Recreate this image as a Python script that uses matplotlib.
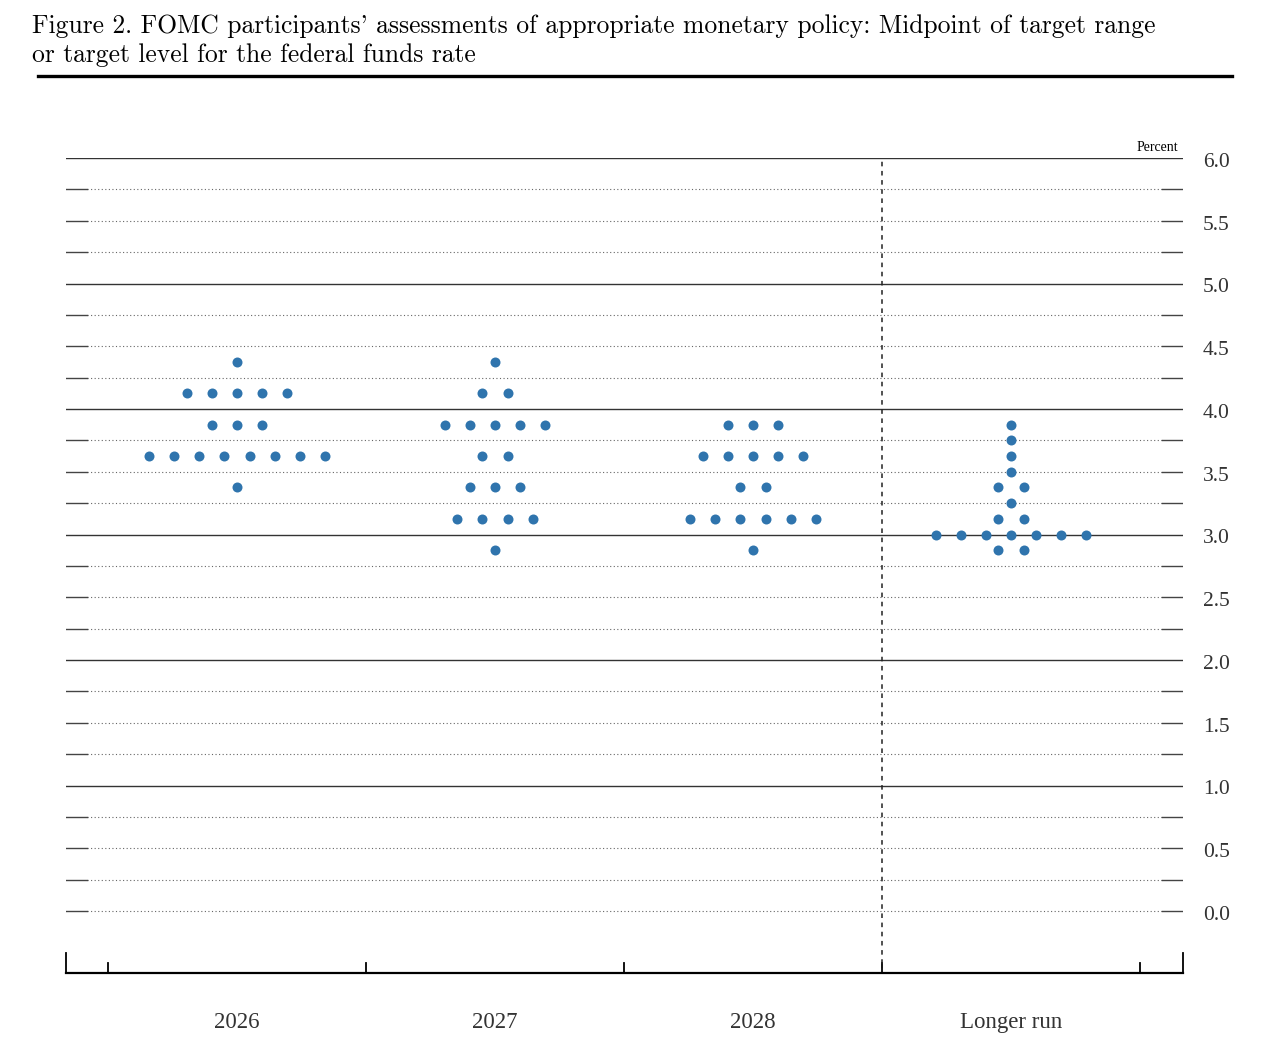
import matplotlib
matplotlib.use("Agg")
import matplotlib.pyplot as plt
from matplotlib.transforms import blended_transform_factory

# FOMC dot plot: midpoint of target range per participant
categories = ["2026", "2027", "2028", "Longer run"]

rates_2026 = [4.375, 4.125, 3.875, 3.625, 3.375]
counts_2026 = [1, 5, 3, 8, 1]

rates_2027 = [4.375, 4.125, 3.875, 3.625, 3.375, 3.125, 2.875]
counts_2027 = [1, 2, 5, 2, 3, 4, 1]

rates_2028 = [3.875, 3.625, 3.375, 3.125, 2.875]
counts_2028 = [3, 5, 2, 6, 1]

rates_lr = [3.875, 3.75, 3.625, 3.5, 3.375, 3.25, 3.125, 3.0, 2.875]
counts_lr = [1, 1, 1, 1, 2, 1, 2, 7, 2]

y_ticks = [0.0, 0.5, 1.0, 1.5, 2.0, 2.5, 3.0, 3.5, 4.0, 4.5, 5.0, 5.5, 6.0]
title = ("Figure 2. FOMC participants' assessments of appropriate monetary policy: "
         "Midpoint of target range\nor target level for the federal funds rate")

DOT = "#2f74ad"
SPACING = 0.097
SERIF = ["Liberation Serif", "DejaVu Serif"]

fig = plt.figure(figsize=(12.61, 10.51), dpi=100)
ax = fig.add_axes([66 / 1261, 1 - 973 / 1051, (1183 - 66) / 1261, (973 - 158) / 1051])
ax.set_xlim(-0.6628, 3.6667)
ax.set_ylim(-0.494, 6.0)
for s in ax.spines.values():
    s.set_visible(False)
ax.set_xticks([])
ax.set_yticks([])

# horizontal grid: solid at whole numbers, dotted at quarters, solid stubs at ends
trans = blended_transform_factory(ax.transAxes, ax.transData)
stub = 21 / (1183 - 66)
for i in range(25):
    y = i * 0.25
    if i % 4 == 0 and i > 0:
        ax.plot([0, 1], [y, y], transform=trans, color="#333333", lw=1.0, zorder=1)
    else:
        ax.plot([stub, 1 - stub], [y, y], transform=trans, color="#666666",
                lw=0.8, ls=(0, (1, 2.2)), zorder=1)
        ax.plot([0, stub], [y, y], transform=trans, color="#444444", lw=1.0, zorder=1)
        ax.plot([1 - stub, 1], [y, y], transform=trans, color="#444444", lw=1.0, zorder=1)

for y in y_ticks:
    ax.text(1.018, y - 0.035, f"{y:.1f}", transform=trans, ha="left", va="center",
            fontsize=15.5, family=SERIF, color="#333333")
ax.text(0.9955, 6.03, "Percent", transform=trans, ha="right", va="bottom",
        fontsize=10, family=SERIF, color="black")

# bottom axis with boundary ticks
y0 = -0.494
ax.plot([-0.6628, 3.6667], [y0, y0], color="black", lw=1.6, clip_on=False, zorder=3)
for xb in [-0.5, 0.5, 1.5, 2.5, 3.5]:
    ax.plot([xb, xb], [y0, y0 + 10 / 125.5], color="black", lw=1.3, clip_on=False)
for xb in [-0.6628, 3.6667]:
    ax.plot([xb, xb], [y0, y0 + 20 / 125.5], color="black", lw=1.3, clip_on=False)
ax.plot([2.5, 2.5], [y0, 6.0], color="#222222", lw=1.1, ls=(0, (3, 3)), zorder=2)

for i, name in enumerate(categories):
    ax.text(i, -0.892, name, ha="center", va="center", fontsize=16.5,
            family=SERIF, color="#333333")

groups = [(rates_2026, counts_2026), (rates_2027, counts_2027),
          (rates_2028, counts_2028), (rates_lr, counts_lr)]
for i, (rates, counts) in enumerate(groups):
    xs, ys = [], []
    for r, n in zip(rates, counts):
        for k in range(n):
            xs.append(i + (k - (n - 1) / 2) * SPACING)
            ys.append(r)
    ax.plot(xs, ys, "o", color=DOT, markersize=7.2, markeredgewidth=0, zorder=4)

fig.text(32 / 1261, 1 - 14 / 1051, title, ha="left", va="top", fontsize=18.4,
         family=["cmr10", "DejaVu Serif"], linespacing=1.32)
fig.add_artist(plt.Line2D([38 / 1261, 1232 / 1261], [1 - 76 / 1051] * 2,
                          color="black", lw=2.4))

fig.savefig("out.png", dpi=100)
